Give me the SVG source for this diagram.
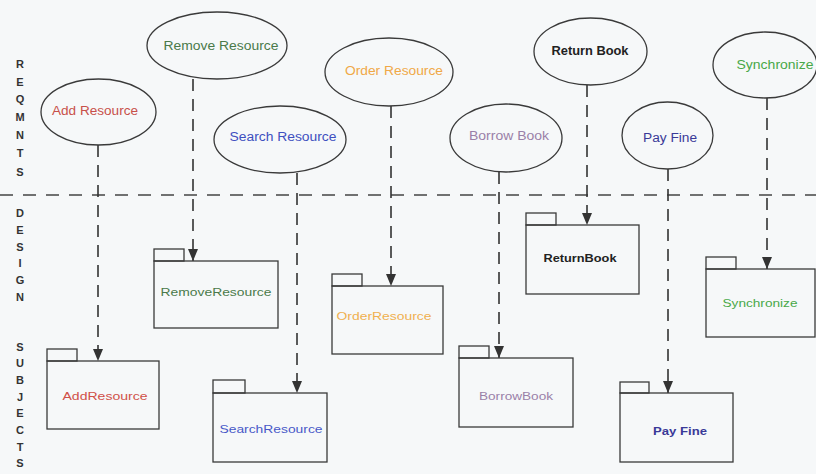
<svg xmlns="http://www.w3.org/2000/svg" width="816" height="474" viewBox="0 0 816 474">
<style>
.bg{fill:#f6f8f9}
.ell{fill:none;stroke:#3a3a3a;stroke-width:1.3}
.pkg{fill:none;stroke:#3a3a3a;stroke-width:1.3}
.lbl{font-family:"Liberation Sans",Arial,sans-serif;font-size:12px;text-anchor:middle;dominant-baseline:central}
.plbl{font-family:"Liberation Sans",Arial,sans-serif;font-size:11px;text-anchor:middle;dominant-baseline:central}
.side{font-family:"Liberation Sans",Arial,sans-serif;font-size:11px;font-weight:bold;fill:#333;text-anchor:middle;dominant-baseline:central}
.conn{stroke:#333;stroke-width:1.6;stroke-dasharray:12 8;fill:none}
.sep{stroke:#444;stroke-width:1.6;stroke-dasharray:13 10;fill:none}
</style>
<defs>
<marker id="arr" viewBox="0 0 12 10" refX="12" refY="5" markerWidth="12" markerHeight="10" markerUnits="userSpaceOnUse" orient="auto">
<path d="M0,0 L12,5 L0,10 Z" fill="#333"/>
</marker>
</defs>
<rect class="bg" x="0" y="0" width="816" height="474"/>
<line class="sep" x1="0" y1="195" x2="816" y2="195"/>
<g id="side-labels">
<text class="side" x="20" y="64">R</text>
<text class="side" x="20" y="82">E</text>
<text class="side" x="20" y="99">Q</text>
<text class="side" x="20" y="117">M</text>
<text class="side" x="20" y="135">N</text>
<text class="side" x="20" y="153">T</text>
<text class="side" x="20" y="172">S</text>
<text class="side" x="20" y="213">D</text>
<text class="side" x="20" y="230">E</text>
<text class="side" x="20" y="247">S</text>
<text class="side" x="20" y="263">I</text>
<text class="side" x="20" y="280">G</text>
<text class="side" x="20" y="297">N</text>
<text class="side" x="20" y="347">S</text>
<text class="side" x="20" y="363">U</text>
<text class="side" x="20" y="380">B</text>
<text class="side" x="20" y="397">J</text>
<text class="side" x="20" y="413">E</text>
<text class="side" x="20" y="430">C</text>
<text class="side" x="20" y="447">T</text>
<text class="side" x="20" y="463">S</text>
</g>
<g id="connectors">
<line class="conn" x1="98" y1="145" x2="98" y2="361" marker-end="url(#arr)"/>
<line class="conn" x1="193" y1="79" x2="193" y2="261" marker-end="url(#arr)"/>
<line class="conn" x1="297" y1="173" x2="297" y2="393" marker-end="url(#arr)"/>
<line class="conn" x1="391" y1="106" x2="391" y2="286" marker-end="url(#arr)"/>
<line class="conn" x1="499" y1="172" x2="499" y2="358" marker-end="url(#arr)"/>
<line class="conn" x1="587" y1="85" x2="587" y2="225" marker-end="url(#arr)"/>
<line class="conn" x1="668" y1="169" x2="668" y2="393" marker-end="url(#arr)"/>
<line class="conn" x1="767" y1="98" x2="767" y2="269" marker-end="url(#arr)"/>
</g>
<g id="req-add-resource">
<ellipse class="ell" cx="98.5" cy="112" rx="57.5" ry="33"/>
<text class="lbl" x="95" y="111" fill="#c8504a" textLength="86" lengthAdjust="spacingAndGlyphs">Add Resource</text>
</g>
<g id="req-remove-resource">
<ellipse class="ell" cx="217" cy="45.5" rx="70" ry="33.5"/>
<text class="lbl" x="221" y="46" fill="#4a7a4a" textLength="115" lengthAdjust="spacingAndGlyphs">Remove Resource</text>
</g>
<g id="req-search-resource">
<ellipse class="ell" cx="280" cy="139.5" rx="66" ry="33.5"/>
<text class="lbl" x="283" y="137" fill="#4050c0" textLength="107" lengthAdjust="spacingAndGlyphs">Search Resource</text>
</g>
<g id="req-order-resource">
<ellipse class="ell" cx="389" cy="72" rx="64" ry="34"/>
<text class="lbl" x="394" y="71" fill="#f0a848" textLength="98" lengthAdjust="spacingAndGlyphs">Order Resource</text>
</g>
<g id="req-borrow-book">
<ellipse class="ell" cx="506" cy="138" rx="56" ry="34"/>
<text class="lbl" x="509" y="136" fill="#9a80a8" textLength="80" lengthAdjust="spacingAndGlyphs">Borrow Book</text>
</g>
<g id="req-return-book">
<ellipse class="ell" cx="590.5" cy="51.5" rx="56.5" ry="33.5"/>
<text class="lbl" x="590" y="51" fill="#222" font-weight="bold" textLength="77" lengthAdjust="spacingAndGlyphs">Return Book</text>
</g>
<g id="req-pay-fine">
<ellipse class="ell" cx="667.5" cy="135.5" rx="45.5" ry="33.5"/>
<text class="lbl" x="670" y="138" fill="#3a3a98" textLength="54" lengthAdjust="spacingAndGlyphs">Pay Fine</text>
</g>
<g id="req-synchronize">
<ellipse class="ell" cx="765" cy="65" rx="52" ry="33"/>
<text class="lbl" x="775" y="65" fill="#48a848" textLength="77" lengthAdjust="spacingAndGlyphs">Synchronize</text>
</g>
<g id="pkg-add-resource">
<rect class="pkg" x="47" y="349" width="30" height="12"/>
<rect class="pkg" x="47" y="361" width="112" height="68"/>
<text class="plbl" x="105" y="396" fill="#d05048" textLength="85" lengthAdjust="spacingAndGlyphs">AddResource</text>
</g>
<g id="pkg-remove-resource">
<rect class="pkg" x="154" y="249" width="30" height="12"/>
<rect class="pkg" x="154" y="261" width="124" height="67"/>
<text class="plbl" x="216" y="292" fill="#4a7a4a" textLength="111" lengthAdjust="spacingAndGlyphs">RemoveResource</text>
</g>
<g id="pkg-search-resource">
<rect class="pkg" x="213" y="380" width="32" height="13"/>
<rect class="pkg" x="213" y="393" width="114" height="69"/>
<text class="plbl" x="271" y="429" fill="#4858c8" textLength="103" lengthAdjust="spacingAndGlyphs">SearchResource</text>
</g>
<g id="pkg-order-resource">
<rect class="pkg" x="332" y="274" width="30" height="12"/>
<rect class="pkg" x="332" y="286" width="111" height="68"/>
<text class="plbl" x="384" y="316" fill="#f0b050" textLength="95" lengthAdjust="spacingAndGlyphs">OrderResource</text>
</g>
<g id="pkg-borrow-book">
<rect class="pkg" x="459" y="346" width="30" height="12"/>
<rect class="pkg" x="459" y="358" width="114" height="69"/>
<text class="plbl" x="516" y="396" fill="#9a80a8" textLength="74" lengthAdjust="spacingAndGlyphs">BorrowBook</text>
</g>
<g id="pkg-return-book">
<rect class="pkg" x="526" y="213" width="30" height="12"/>
<rect class="pkg" x="526" y="225" width="113" height="69"/>
<text class="plbl" x="580" y="258" fill="#222" font-weight="bold" textLength="73" lengthAdjust="spacingAndGlyphs">ReturnBook</text>
</g>
<g id="pkg-pay-fine">
<rect class="pkg" x="620" y="382" width="29" height="11"/>
<rect class="pkg" x="620" y="393" width="113" height="69"/>
<text class="plbl" x="680" y="431" fill="#3a3a98" font-weight="bold" textLength="54" lengthAdjust="spacingAndGlyphs">Pay Fine</text>
</g>
<g id="pkg-synchronize">
<rect class="pkg" x="706" y="257" width="30" height="12"/>
<rect class="pkg" x="706" y="269" width="109" height="68"/>
<text class="plbl" x="760" y="303" fill="#48a848" textLength="75" lengthAdjust="spacingAndGlyphs">Synchronize</text>
</g>
</svg>
